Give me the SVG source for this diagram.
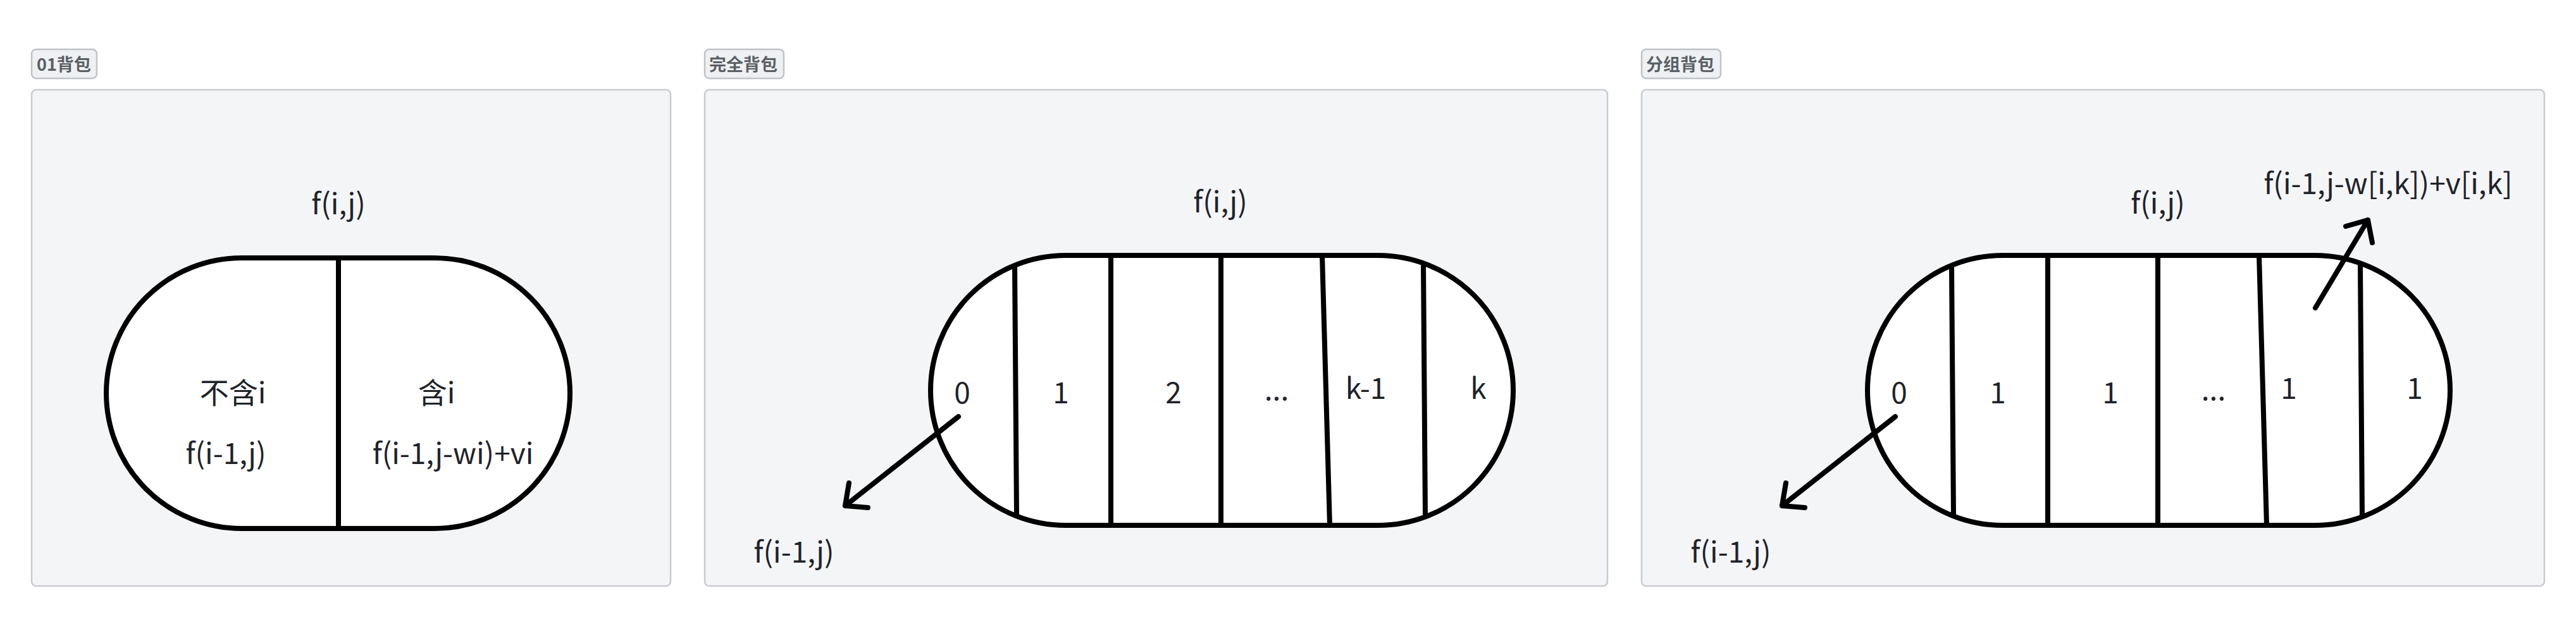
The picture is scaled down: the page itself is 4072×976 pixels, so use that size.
<svg xmlns="http://www.w3.org/2000/svg" width="4072" height="976" viewBox="0 0 4072 976">
<style>
.bg{fill:#ffffff}
.panel{fill:#f4f5f7;stroke:#c9ccd0;stroke-width:2.5}
.tag{fill:#eef0f2;stroke:#bfc3c8;stroke-width:2.5}
.tagt{font-family:"Noto Sans CJK SC","Noto Sans",sans-serif;font-weight:700;font-size:27px;fill:#5a5f66}
.shape{fill:#ffffff;stroke:#000000;stroke-width:8}
.div{stroke:#000000;stroke-width:8;fill:none}
.t{font-family:"Noto Sans CJK SC","Noto Sans",sans-serif;font-size:46px;fill:#1f2329;text-anchor:middle}
.arrow{fill:none;stroke:#000000;stroke-width:8;stroke-linecap:round;stroke-linejoin:round}
</style>
<rect class="bg" x="0" y="0" width="4072" height="976"/>

<g id="panel-01">
  <rect class="tag" x="50" y="78" width="103" height="46" rx="7"/>
  <text class="tagt" x="58" y="112">01背包</text>
  <rect class="panel" x="50" y="142" width="1010" height="785" rx="7"/>
  <text class="t" x="535" y="339">f(i,j)</text>
  <g id="node-01-capsule">
    <rect class="shape" x="168" y="408" width="733" height="428" rx="214"/>
    <line class="div" x1="535" y1="408" x2="535" y2="836"/>
    <text class="t" x="368" y="638">不含i</text>
    <text class="t" x="357" y="734">f(i-1,j)</text>
    <text class="t" x="690" y="638">含i</text>
    <text class="t" x="716" y="734">f(i-1,j-wi)+vi</text>
  </g>
</g>

<g id="panel-complete">
  <rect class="tag" x="1114" y="78" width="125" height="46" rx="7"/>
  <text class="tagt" x="1121" y="112">完全背包</text>
  <rect class="panel" x="1114" y="142" width="1427" height="785" rx="7"/>
  <text class="t" x="1929" y="336">f(i,j)</text>
  <g id="node-complete-capsule">
    <rect class="shape" x="1471" y="404" width="921" height="427" rx="213.5"/>
    <line class="div" x1="1604" y1="420" x2="1607" y2="814"/>
    <line class="div" x1="1756" y1="404" x2="1756" y2="831"/>
    <line class="div" x1="1930" y1="404" x2="1930" y2="831"/>
    <line class="div" x1="2090" y1="404" x2="2102" y2="831"/>
    <line class="div" x1="2250" y1="418" x2="2253" y2="817"/>
    <text class="t" x="1521" y="638">0</text>
    <text class="t" x="1677" y="638">1</text>
    <text class="t" x="1855" y="638">2</text>
    <text class="t" x="2018" y="633">...</text>
    <text class="t" x="2159" y="631">k-1</text>
    <text class="t" x="2337" y="631">k</text>
  </g>
  <text class="t" x="1255" y="890">f(i-1,j)</text>
</g>

<g id="panel-group">
  <rect class="tag" x="2595" y="78" width="125" height="46" rx="7"/>
  <text class="tagt" x="2602" y="112">分组背包</text>
  <rect class="panel" x="2595" y="142" width="1427" height="785" rx="7"/>
  <text class="t" x="3411" y="338">f(i,j)</text>
  <text class="t" x="3775" y="307">f(i-1,j-w[i,k])+v[i,k]</text>
  <g id="node-group-capsule">
    <rect class="shape" x="2952" y="404" width="921" height="427" rx="213.5"/>
    <line class="div" x1="3085" y1="420" x2="3088" y2="814"/>
    <line class="div" x1="3237" y1="404" x2="3237" y2="831"/>
    <line class="div" x1="3411" y1="404" x2="3411" y2="831"/>
    <line class="div" x1="3571" y1="404" x2="3583" y2="831"/>
    <line class="div" x1="3731" y1="418" x2="3734" y2="817"/>
    <text class="t" x="3002" y="638">0</text>
    <text class="t" x="3158" y="638">1</text>
    <text class="t" x="3336" y="638">1</text>
    <text class="t" x="3499" y="633">...</text>
    <text class="t" x="3618" y="631">1</text>
    <text class="t" x="3817" y="631">1</text>
  </g>
  <text class="t" x="2736" y="890">f(i-1,j)</text>
</g>

<g id="connectors">
  <path class="arrow" d="M1515,659 L1336,800 M1342,764 L1336,800 L1372,803"/>
  <path class="arrow" d="M2996,659 L2817,800 M2823,764 L2817,800 L2853,803"/>
  <path class="arrow" d="M3660,487 L3743,348 M3708,358 L3743,348 L3750,384"/>
</g>
</svg>
